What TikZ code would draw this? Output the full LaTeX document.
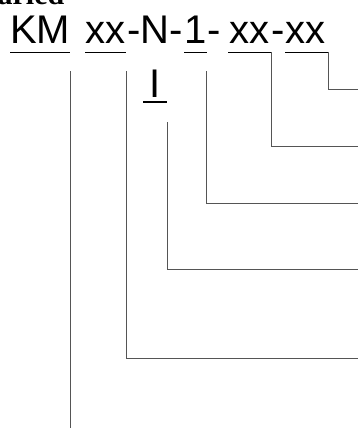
\documentclass[tikz,border=0pt]{standalone}
\usepackage{fontspec}
\newfontfamily\arialf{Liberation Sans}
\newfontfamily\serifb{Liberation Serif}
\definecolor{lnc}{RGB}{85,85,85}
\begin{document}
\begin{tikzpicture}[x=1pt,y=-1pt,
  code/.style={inner sep=0pt, outer sep=0pt, font=\arialf\fontsize{40}{40}\selectfont},
  uline/.style={line width=1.6pt, black},
  conn/.style={line width=0.9pt, lnc}]
\useasboundingbox (0,0) rectangle (358,428);
\clip (0,0) rectangle (358,428);
% partially visible caption at the top
\node[inner sep=0pt, anchor=base west, font=\serifb\bfseries\fontsize{30}{30}\selectfont] (cap) at (-21.5,4.5) {Varied};
% code parts
\node[code, anchor=base, minimum width=60pt] (km) at (40,44) {KM};
\node[code, anchor=base, minimum width=41pt] (xx1) at (105.5,44) {xx};
\node[code, anchor=base] (nmid) at (155,44) {-N-};
\node[code, anchor=base, minimum width=21pt] (one) at (195.5,44) {1};
\node[code, anchor=base] (h1) at (214.5,44) {-};
\node[code, anchor=base, minimum width=43pt] (xx2) at (249.5,44) {xx};
\node[code, anchor=base] (h2) at (278,44) {-};
\node[code, anchor=base west, text width=43pt, align=left] (xx3) at (285,44) {xx};
\node[code, anchor=base, minimum width=24pt] (inode) at (155,97) {I};
% underlines
\draw[uline] ([yshift=-8.5pt]km.base west) -- ([yshift=-8.5pt]km.base east);
\draw[uline] ([yshift=-8.5pt]xx1.base west) -- ([yshift=-8.5pt]xx1.base east);
\draw[uline] ([yshift=-8.5pt]one.base west) -- ([yshift=-8.5pt]one.base east);
\draw[uline] ([yshift=-8.5pt]xx2.base west) -- ([yshift=-8.5pt]xx2.base east);
\draw[uline] ([yshift=-8.5pt]xx3.base west) -- ([yshift=-8.5pt]xx3.base east);
\draw[uline] ([yshift=-5pt]inode.base west) -- ([yshift=-5pt]inode.base east);
% right-edge ends
\coordinate (e1) at (358,89);
\coordinate (e2) at (358,146);
\coordinate (e3) at (358,203);
\coordinate (e4) at (358,269);
\coordinate (e5) at (358,358);
\coordinate (e6) at (69,428);
% connectors
\draw[conn] ([yshift=-8.5pt]xx3.base east) |- (e1);
\draw[conn] ([yshift=-8.5pt]xx2.base east) |- (e2);
\draw[conn] ([yshift=-27pt]one.base east) |- (e3);
\draw[conn] ([yshift=-25pt]inode.base east) |- (e4);
\draw[conn] ([yshift=-27pt]xx1.base east) |- (e5);
\draw[conn] ([yshift=-27pt]km.base east) -- (km.base east |- e6);
\end{tikzpicture}
\end{document}
